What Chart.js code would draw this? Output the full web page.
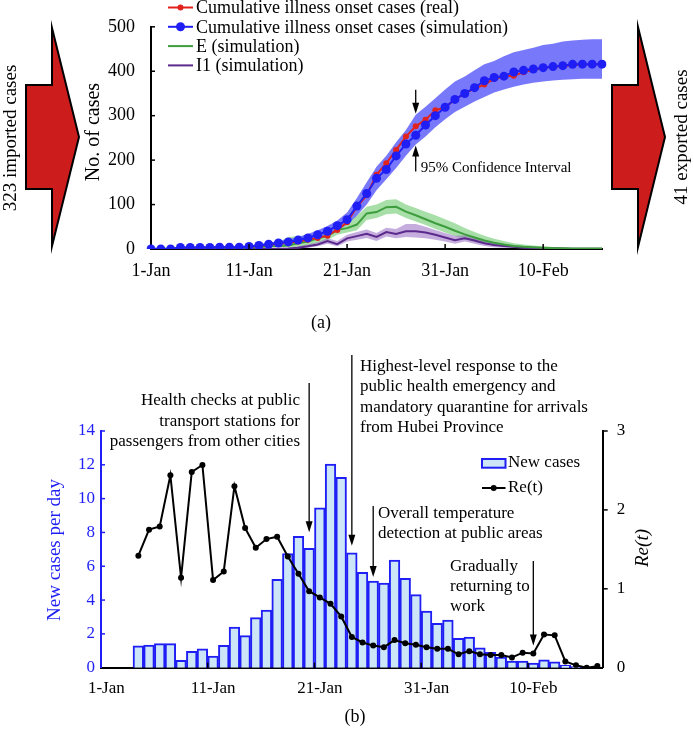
<!DOCTYPE html>
<html lang="en">
<head>
<meta charset="UTF-8" />
<title>Cumulative cases and Re(t)</title>
<script src="https://cdn.jsdelivr.net/npm/chart.js@4"></script>
<style>
  body { margin: 0; background: #fff; width: 694px; height: 745px; position: relative; overflow: hidden; font-family: "Liberation Serif", serif; }
  .wrap { position: absolute; left: 0; }
  #wrapA { top: 0; width: 694px; height: 300px; }
  #wrapB { top: 330px; width: 694px; height: 415px; }
  .cap { position: absolute; font-size: 18px; transform: translate(-50%, -50%); }
</style>
</head>
<body>
<div id="wrapA" class="wrap"><canvas id="chartA" width="694" height="300"></canvas></div>
<div id="wrapB" class="wrap"><canvas id="chartB" width="694" height="415"></canvas></div>
<div class="cap" style="left:321px; top:322px;">(a)</div>
<div class="cap" style="left:355px; top:716px;">(b)</div>

<script>
const days = ['1-Jan','2-Jan','3-Jan','4-Jan','5-Jan','6-Jan','7-Jan','8-Jan','9-Jan','10-Jan',
  '11-Jan','12-Jan','13-Jan','14-Jan','15-Jan','16-Jan','17-Jan','18-Jan','19-Jan','20-Jan',
  '21-Jan','22-Jan','23-Jan','24-Jan','25-Jan','26-Jan','27-Jan','28-Jan','29-Jan','30-Jan',
  '31-Jan','1-Feb','2-Feb','3-Feb','4-Feb','5-Feb','6-Feb','7-Feb','8-Feb','9-Feb',
  '10-Feb','11-Feb','12-Feb','13-Feb','14-Feb','15-Feb','16-Feb'];
const tickLabels = ['1-Jan','11-Jan','21-Jan','31-Jan','10-Feb'];

// (a) cumulative cases and compartments
const realCases = [0,0,0,3,3,3,3.5,4,4,4, 5,7,9,12,14,17,21,25,30,43, 60,95,121,167,193,223,253,276,291,312,
  319,336,350,361,370,383,388,390,398,403, 408,410,411,414,415,416,416];
const simCases = [0,0,0,3.5,3.5,3.5,3.5,4,4,4, 5.7,8,10.7,13.5,16,20,25,32,40,52.5, 66,96.6,125,159,179,209.5,236,256,279,300,
  319,336.6,350,363,378.5,386,389,398.4,402,405, 408,410.5,412.6,415.5,416,416,416];
const simUpper = [0,0.5,1,5,5,5.5,6,6,7,7, 8,11,14,18,22,27,34,42,52,64, 82,115,150,185,210,240,268,302,320,339,
  359,377,388,402,416,423,434,443,448,453, 459,462,467,469,471,472,472];
const simLower = [0,0,0,2,2,2,2,2.5,2.5,2.5, 3.5,5,7,9,11,15,18,25,32,42, 55,75,100,132,157,182,210,235,253,274,
  292,308,320,332,342,352,359,365,370,374, 377,379,381,382,383,383,383];
const eSim = [0,0.5,1,1.5,2,2,2.5,2.5,3,3, 3.5,4,6,6.5,8,13,17,24,29,43, 47,55,80,83,94,95,84,76,67,58,
  50,41,33,26,19,14,10,7,5,4, 3,2,1.5,1,1,1,1];
const eUpper = [0,1,2,3,3.5,4,4.5,5,5.5,6, 6.5,7,9,15,27,29,31,34,40,52, 60,75,95,100,110,112,100,92,84,76,
  67,58,47,38,30,23,18,13,10,8, 6,4,3,2,2,2,2];
const eLower = [0,0,0.5,1,1,1,1.5,1.5,2,2, 2.5,3,4,4,4,5,8,14,20,32, 37,42,65,70,78,80,70,62,54,45,
  37,29,22,16,11,8,5,3,2,1.5, 1,0.5,0.5,0.5,0.5,0.5,0.5];
const i1Sim = [0,0,0,0,0,0,0,0,0,0, 0,0,0,0.5,1,3,6,10,18,11, 24,29,34,27,38,34,40,40,37,32,
  26,20,24,19,13,9,7,5,3,2.5, 2,1.5,1,0.5,0.5,0.5,0.5];
const i1Upper = [0,0,0,0,0,0,0,0,0,0, 0.5,0.5,1,2,3,6,10,15,24,18, 32,38,44,36,48,45,56,56,50,43,
  36,30,31,26,19,14,11,8,6,5, 4,3,2.5,2,2,2,2];
const i1Lower = [0,0,0,0,0,0,0,0,0,0, 0,0,0,0,0,1,3,6,12,6, 17,21,25,18,28,24,27,26,24,21,
  17,12,17,12,7,4,3,2,1,0.5, 0.5,0.5,0.5,0.5,0.5,0.5,0.5];
const ciDay = 27;

// (b) new cases per day and Re(t)
const newCases = [null,null,null,1.3,1.34,1.42,1.42,0.43,0.97,1.12, 0.69,1.32,2.4,1.9,2.96,3.41,5.23,6.75,7.77,7.06,
  9.45,12.05,11.26,6.8,5.64,5.13,5.0,6.37,5.29,4.32, 3.35,2.62,2.82,1.74,1.81,1.18,0.91,0.63,0.39,0.39,
  0.28,0.47,0.34,0.16,0.06,null,null];
const reT = [null,null,null,1.42,1.75,1.79,2.44,1.14,2.48,2.57, 1.11,1.22,2.30,1.77,1.52,1.63,1.66,1.41,1.19,0.97,
  0.89,0.81,0.65,0.39,0.32,0.28,0.26,0.35,0.31,0.29, 0.26,0.24,0.24,0.17,0.21,0.17,0.16,0.16,0.13,0.19,
  0.18,0.42,0.41,0.08,0.03,0.0,0.02];

const noteHealth = ['Health checks at public', 'transport stations for', 'passengers from other cities'];
const noteResponse = ['Highest-level response to the', 'public health emergency and', 'mandatory quarantine for arrivals', 'from Hubei Province'];
const noteTemp = ['Overall temperature', 'detection at public areas'];
const noteWork = ['Gradually', 'returning to', 'work'];

const FONT = '"Liberation Serif", serif';
const BLUE = '#1f1ff5';
const RED = '#e2231d';

function vArrow(ctx, x, yFrom, yTo) {
  const dir = yTo > yFrom ? 1 : -1;
  ctx.strokeStyle = '#000'; ctx.fillStyle = '#000'; ctx.lineWidth = 1.3;
  ctx.beginPath(); ctx.moveTo(x, yFrom); ctx.lineTo(x, yTo - dir * 8); ctx.stroke();
  ctx.beginPath(); ctx.moveTo(x, yTo); ctx.lineTo(x - 3.5, yTo - dir * 11); ctx.lineTo(x + 3.5, yTo - dir * 11);
  ctx.closePath(); ctx.fill();
}

function vText(ctx, text, x, y, font, color) {
  ctx.save();
  ctx.translate(x, y); ctx.rotate(-Math.PI / 2);
  ctx.font = font; ctx.fillStyle = color; ctx.textAlign = 'center'; ctx.textBaseline = 'middle';
  ctx.fillText(text, 0, 0);
  ctx.restore();
}

function blockArrow(ctx, x0, xNeck, xTip, shaftTop, shaftBot, headTop, headBot, midY) {
  ctx.beginPath();
  ctx.moveTo(x0, shaftTop); ctx.lineTo(xNeck, shaftTop); ctx.lineTo(xNeck, headTop);
  ctx.lineTo(xTip, midY); ctx.lineTo(xNeck, headBot); ctx.lineTo(xNeck, shaftBot); ctx.lineTo(x0, shaftBot);
  ctx.closePath();
  ctx.fillStyle = '#cc1c1c'; ctx.fill();
  ctx.strokeStyle = '#000'; ctx.lineWidth = 2; ctx.stroke();
}

const extrasA = {
  id: 'extrasA',
  afterDraw(chart) {
    const ctx = chart.ctx, X = chart.scales.x, Y = chart.scales.y, a = chart.chartArea;
    ctx.save();
    // tick marks
    ctx.strokeStyle = '#000'; ctx.lineWidth = 1.5;
    for (let i = 10; i < days.length; i += 10) {
      const px = X.getPixelForValue(i);
      ctx.beginPath(); ctx.moveTo(px, a.bottom); ctx.lineTo(px, a.bottom - 5); ctx.stroke();
    }
    for (let v = 100; v <= 500; v += 100) {
      const py = Y.getPixelForValue(v);
      ctx.beginPath(); ctx.moveTo(a.left, py); ctx.lineTo(a.left + 4, py); ctx.stroke();
    }
    vText(ctx, 'No. of cases', 94, 132, '20px ' + FONT, '#000');

    // legend
    const ds = chart.data.datasets;
    const rows = [1, 0, 2, 3];
    ctx.font = '18px ' + FONT; ctx.textBaseline = 'middle'; ctx.textAlign = 'left';
    rows.forEach((di, r) => {
      const d = ds[di], y = 7.5 + r * 19.3;
      ctx.strokeStyle = d.borderColor; ctx.lineWidth = 2;
      ctx.beginPath(); ctx.moveTo(168, y); ctx.lineTo(193, y); ctx.stroke();
      if (d.pointRadius > 0) {
        ctx.fillStyle = d.borderColor;
        ctx.beginPath(); ctx.arc(180.5, y, d.pointRadius, 0, Math.PI * 2); ctx.fill();
      }
      ctx.fillStyle = '#000';
      ctx.fillText(d.label, 196, y + 1);
    });

    // confidence interval arrows
    const cx = X.getPixelForValue(ciDay);
    const up = Y.getPixelForValue(simUpper[ciDay]);
    const lo = Y.getPixelForValue(simLower[ciDay]);
    vArrow(ctx, cx, up - 25, up - 1);
    vArrow(ctx, cx, lo + 27, lo + 1);
    ctx.font = '15px ' + FONT; ctx.fillStyle = '#000'; ctx.textAlign = 'left'; ctx.textBaseline = 'middle';
    ctx.fillText('95% Confidence Interval', cx + 5, lo + 23);

    // imported / exported block arrows
    blockArrow(ctx, 26, 52, 79, 85, 189, 28, 246, 137);
    blockArrow(ctx, 612, 638, 665, 85, 189, 27, 247, 137);
    vText(ctx, '323 imported cases', 11, 138, '19px ' + FONT, '#000');
    vText(ctx, '41 exported cases', 682, 137, '19px ' + FONT, '#000');
    ctx.restore();
  }
};

new Chart(document.getElementById('chartA'), {
  type: 'line',
  data: {
    labels: days,
    datasets: [
      { label: 'Cumulative illness onset cases (simulation)', data: simCases, borderColor: BLUE, backgroundColor: BLUE,
        borderWidth: 2, pointRadius: 4.5, pointBackgroundColor: BLUE, pointBorderWidth: 0, fill: false },
      { label: 'Cumulative illness onset cases (real)', data: realCases, borderColor: RED, backgroundColor: RED,
        borderWidth: 2, pointRadius: 3, pointBackgroundColor: RED, pointBorderWidth: 0, fill: false },
      { label: 'E (simulation)', data: eSim, borderColor: '#3e9e3e', borderWidth: 2, pointRadius: 0, fill: false },
      { label: 'I1 (simulation)', data: i1Sim, borderColor: '#5b2a8c', borderWidth: 2, pointRadius: 0, fill: false },
      { label: 'sim upper', data: simUpper, borderWidth: 0, borderColor: 'rgba(0,0,0,0)', pointRadius: 0,
        fill: '+1', backgroundColor: 'rgba(90,90,250,0.82)' },
      { label: 'sim lower', data: simLower, borderWidth: 0, borderColor: 'rgba(0,0,0,0)', pointRadius: 0, fill: false },
      { label: 'I1 upper', data: i1Upper, borderWidth: 0, borderColor: 'rgba(0,0,0,0)', pointRadius: 0,
        fill: '+1', backgroundColor: 'rgba(150,105,195,0.55)' },
      { label: 'I1 lower', data: i1Lower, borderWidth: 0, borderColor: 'rgba(0,0,0,0)', pointRadius: 0, fill: false },
      { label: 'E upper', data: eUpper, borderWidth: 0, borderColor: 'rgba(0,0,0,0)', pointRadius: 0,
        fill: '+1', backgroundColor: 'rgba(110,200,110,0.6)' },
      { label: 'E lower', data: eLower, borderWidth: 0, borderColor: 'rgba(0,0,0,0)', pointRadius: 0, fill: false }
    ]
  },
  options: {
    responsive: false,
    animation: false,
    layout: { padding: { top: 14, right: 92, left: 0, bottom: 0 } },
    plugins: { legend: { display: false }, tooltip: { enabled: false } },
    scales: {
      x: {
        offset: false,
        grid: { display: false, drawTicks: false },
        border: { color: '#000', width: 2 },
        ticks: {
          autoSkip: false, maxRotation: 0, padding: 11, color: '#000', font: { family: FONT, size: 18 },
          callback: (v, i) => tickLabels.includes(days[i]) ? days[i] : ''
        },
        afterFit: s => { s.height = 51; }
      },
      y: {
        min: 0, max: 500,
        grid: { display: false, drawTicks: false },
        border: { color: '#000', width: 2 },
        ticks: { stepSize: 100, padding: 16, color: '#000', font: { family: FONT, size: 18 } },
        afterFit: s => { s.width = 151; }
      }
    }
  },
  plugins: [extrasA]
});

const extrasB = {
  id: 'extrasB',
  afterDraw(chart) {
    const ctx = chart.ctx, X = chart.scales.x, Y = chart.scales.y, R = chart.scales.y2, a = chart.chartArea;
    ctx.save();
    const half = (X.getPixelForValue(1) - X.getPixelForValue(0)) / 2;
    ctx.lineWidth = 1.5; ctx.strokeStyle = '#000';
    for (let i = 10; i < days.length; i += 10) {
      const px = X.getPixelForValue(i) - half;
      ctx.beginPath(); ctx.moveTo(px, a.bottom); ctx.lineTo(px, a.bottom - 5); ctx.stroke();
    }
    for (let v = 1; v <= 3; v++) {
      const py = R.getPixelForValue(v);
      ctx.beginPath(); ctx.moveTo(a.right, py); ctx.lineTo(a.right + 5, py); ctx.stroke();
    }
    ctx.strokeStyle = BLUE;
    for (let v = 2; v <= 14; v += 2) {
      const py = Y.getPixelForValue(v);
      ctx.beginPath(); ctx.moveTo(a.left, py); ctx.lineTo(a.left + 4, py); ctx.stroke();
    }
    vText(ctx, 'New cases per day', 55, 220, '19px ' + FONT, BLUE);
    vText(ctx, 'Re(t)', 643, 218, 'italic 19px ' + FONT, '#000');

    // legend
    const bar = chart.data.datasets[1], line = chart.data.datasets[0];
    ctx.fillStyle = bar.backgroundColor; ctx.strokeStyle = bar.borderColor; ctx.lineWidth = 2;
    ctx.fillRect(482, 129, 23.5, 8.7); ctx.strokeRect(482, 129, 23.5, 8.7);
    ctx.strokeStyle = '#000';
    ctx.beginPath(); ctx.moveTo(482, 158); ctx.lineTo(505.5, 158); ctx.stroke();
    ctx.fillStyle = '#000';
    ctx.beginPath(); ctx.arc(493.7, 158, 3, 0, Math.PI * 2); ctx.fill();
    ctx.font = '17px ' + FONT; ctx.textAlign = 'left'; ctx.textBaseline = 'middle';
    ctx.fillText(bar.label, 508, 133);
    ctx.fillText(line.label, 508, 158);

    // annotations
    ctx.textAlign = 'right';
    noteHealth.forEach((t, i) => ctx.fillText(t, 300, 71 + i * 20.4));
    vArrow(ctx, X.getPixelForValue(19), 53, Y.getPixelForValue(newCases[19]) - 16);
    ctx.fillStyle = '#000'; ctx.textAlign = 'left';
    noteResponse.forEach((t, i) => ctx.fillText(t, 360, 36.5 + i * 20.5));
    vArrow(ctx, X.getPixelForValue(23), 25, Y.getPixelForValue(newCases[23]) - 7);
    ctx.fillStyle = '#000';
    noteTemp.forEach((t, i) => ctx.fillText(t, 378, 184 + i * 20));
    vArrow(ctx, X.getPixelForValue(25), 176, Y.getPixelForValue(newCases[25]) - 4);
    ctx.fillStyle = '#000';
    noteWork.forEach((t, i) => ctx.fillText(t, 450, 237 + i * 20));
    vArrow(ctx, X.getPixelForValue(40), 231, R.getPixelForValue(reT[40]) - 8);
    ctx.restore();
  }
};

new Chart(document.getElementById('chartB'), {
  type: 'bar',
  data: {
    labels: days,
    datasets: [
      { type: 'line', label: 'Re(t)', data: reT, yAxisID: 'y2', borderColor: '#000', backgroundColor: '#000',
        borderWidth: 2, pointRadius: 3, pointBackgroundColor: '#000', pointBorderWidth: 0, order: 0, spanGaps: false },
      { type: 'bar', label: 'New cases', data: newCases, yAxisID: 'y', backgroundColor: '#cde6f7', borderColor: BLUE,
        borderWidth: 2, barPercentage: 1, categoryPercentage: 1, order: 1 }
    ]
  },
  options: {
    responsive: false,
    animation: false,
    layout: { padding: { top: 101, right: 0, left: 0, bottom: 0 } },
    plugins: { legend: { display: false }, tooltip: { enabled: false } },
    scales: {
      x: {
        offset: true,
        grid: { display: false, drawTicks: false },
        border: { color: '#000', width: 2 },
        ticks: {
          autoSkip: false, maxRotation: 0, padding: 11, color: '#000', font: { family: FONT, size: 17 },
          callback: (v, i) => tickLabels.includes(days[i]) ? days[i] : ''
        },
        afterFit: s => { s.height = 77.3; }
      },
      y: {
        position: 'left', min: 0, max: 14,
        grid: { display: false, drawTicks: false },
        border: { color: BLUE, width: 2 },
        ticks: { stepSize: 2, padding: 6, color: BLUE, font: { family: FONT, size: 17 } },
        afterFit: s => { s.width = 101; }
      },
      y2: {
        position: 'right', min: 0, max: 3,
        grid: { display: false, drawTicks: false },
        border: { color: '#000', width: 2 },
        ticks: { stepSize: 1, padding: 14, color: '#000', font: { family: FONT, size: 17 } },
        afterFit: s => { s.width = 91.3; }
      }
    }
  },
  plugins: [extrasB]
});
</script>
</body>
</html>
